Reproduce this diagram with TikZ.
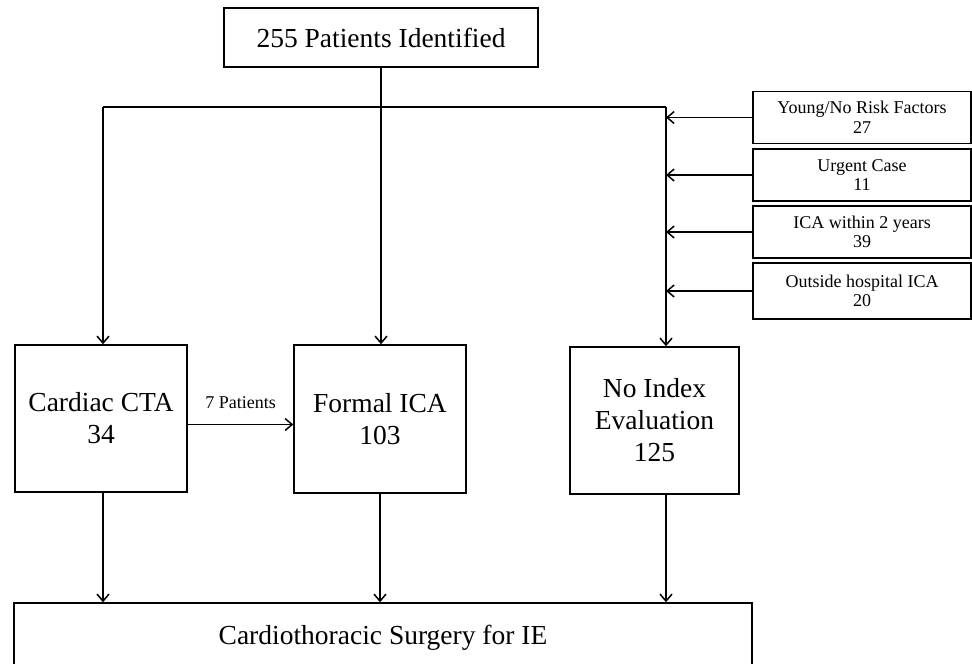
\documentclass[tikz,border=0pt]{standalone}
\usepackage{fontspec}
\setmainfont{Liberation Serif}
\usetikzlibrary{arrows.meta}
\begin{document}
\begin{tikzpicture}[x=1pt,y=-1pt,
 box/.style={draw,line width=1.5pt,inner sep=0pt,align=center,font=\fontsize{27.5}{32}\selectfont},
 sbox/.style={draw,line width=1.5pt,inner sep=0pt,align=center,minimum width=218pt,minimum height=52pt,font=\fontsize{18}{19.5}\selectfont},
 conn/.style={line width=1.5pt},
 arr/.style={conn,-{Straight Barb[length=7pt,width=12pt]}}]
\useasboundingbox (0,0) rectangle (972,664);

\node[box,minimum width=314pt,minimum height=59pt] (top) at (381,37.5) {255 Patients Identified};
\node[box,minimum width=172pt,minimum height=147pt] (cta) at (101,418.5) {Cardiac CTA\\34};
\node[box,minimum width=172pt,minimum height=148pt] (ica) at (380,419) {Formal ICA\\103};
\node[box,minimum width=169pt,minimum height=147pt] (noe) at (654.5,420.5) {No Index\\Evaluation\\125};
\node[box,minimum width=738pt,minimum height=70pt] (surg) at (383,638) {Cardiothoracic Surgery for IE};

\node[sbox] (yng) at (862,117.5) {Young/No Risk Factors\\27};
\node[sbox] (urg) at (862,175) {Urgent Case\\11};
\node[sbox] (icay) at (862,232) {ICA within 2 years\\39};
\node[sbox,minimum height=56pt] (out) at (862,291) {Outside hospital ICA\\20};

\coordinate (jL) at (103,107);
\coordinate (jR) at (666,107);

\draw[conn] (jL) -- (jR);
\draw[arr] (jL) -- (jL |- cta.north);
\draw[arr] (top.south) -- (top.south |- ica.north);
\draw[arr] (jR) -- (jR |- noe.north);

\draw[arr] (yng.west) -- (yng.west -| jR);
\draw[arr] (urg.west) -- (urg.west -| jR);
\draw[arr] (icay.west) -- (icay.west -| jR);
\draw[arr] (out.west) -- (out.west -| jR);

\draw[arr] ([yshift=-6pt]cta.east) -- ([yshift=-6pt]cta.east -| ica.west)
  node[midway,above=12pt,font=\fontsize{18}{19.5}\selectfont] {7 Patients};

\draw[arr] (jL |- cta.south) -- (jL |- surg.north);
\draw[arr] (ica.south) -- (ica.south |- surg.north);
\draw[arr] (jR |- noe.south) -- (jR |- surg.north);
\end{tikzpicture}
\end{document}
